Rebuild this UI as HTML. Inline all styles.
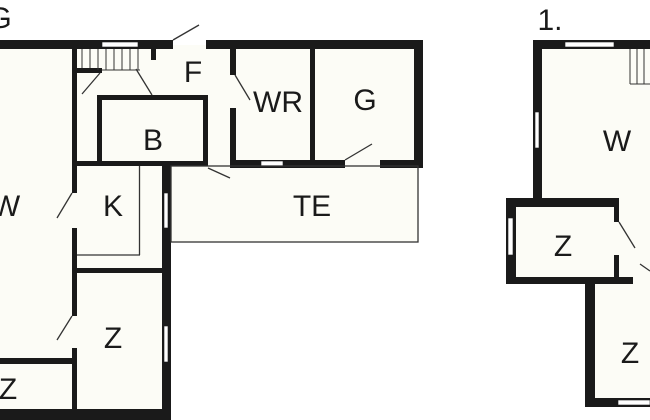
<!DOCTYPE html>
<html><head><style>
html,body{margin:0;padding:0;background:#fff;}
svg{display:block;}
text{font-family:"Liberation Sans",sans-serif;fill:#1a1a1a;text-anchor:middle;}
</style></head><body>
<svg width="650" height="420" viewBox="0 0 650 420" xmlns="http://www.w3.org/2000/svg">
<g fill="#fcfcf6">
<rect x="0" y="45" width="418" height="120"/>
<rect x="0" y="45" width="170" height="372"/>
<rect x="170" y="165" width="248" height="77"/>
<rect x="538" y="45" width="112" height="160"/>
<rect x="510" y="202" width="140" height="80"/>
<rect x="590" y="280" width="60" height="122"/>
</g>
<g fill="#1a1a1a">
<rect x="0" y="40" width="173" height="9"/>
<rect x="206" y="40" width="217" height="9"/>
<rect x="414" y="40" width="9" height="128"/>
<rect x="72" y="49" width="5" height="144"/>
<rect x="72" y="228" width="5" height="88"/>
<rect x="72" y="348" width="5" height="68"/>
<rect x="151" y="49" width="5" height="11"/>
<rect x="77" y="68" width="25" height="5"/>
<rect x="97" y="95" width="111" height="5"/>
<rect x="97" y="95" width="5" height="70"/>
<rect x="203" y="95" width="5" height="70"/>
<rect x="77" y="161" width="131" height="5"/>
<rect x="162" y="161" width="9" height="255"/>
<rect x="77" y="268" width="90" height="5"/>
<rect x="230" y="49" width="6" height="26"/>
<rect x="230" y="108" width="6" height="60"/>
<rect x="310" y="49" width="5" height="115"/>
<rect x="230" y="160" width="115" height="8"/>
<rect x="380" y="160" width="43" height="8"/>
<rect x="0" y="358" width="77" height="6"/>
<rect x="0" y="409" width="171" height="11"/>
<rect x="533" y="40" width="117" height="9"/>
<rect x="533" y="40" width="9" height="165"/>
<rect x="506" y="198" width="113" height="9"/>
<rect x="506" y="198" width="10" height="86"/>
<rect x="614" y="198" width="5" height="24"/>
<rect x="614" y="255" width="5" height="27"/>
<rect x="506" y="277" width="127" height="7"/>
<rect x="585" y="277" width="10" height="130"/>
<rect x="585" y="398" width="65" height="9"/>
</g>
<g fill="#fff" stroke="#1a1a1a" stroke-width="0.6">
<rect x="102" y="42" width="36" height="5"/>
<rect x="261" y="161" width="22" height="5"/>
<rect x="164" y="193" width="4" height="35"/>
<rect x="164" y="326" width="4" height="36"/>
<rect x="565" y="42" width="49" height="5"/>
<rect x="535" y="112" width="4" height="36"/>
<rect x="508" y="218" width="5" height="37"/>
<rect x="618" y="400" width="32" height="5"/>
</g>
<g stroke="#333" stroke-width="1.3" fill="none">
<rect x="171" y="166" width="247" height="76"/>
<line x1="139.5" y1="166" x2="139.5" y2="255"/>
<line x1="77" y1="255" x2="140" y2="255"/>
<line x1="173" y1="40" x2="199" y2="25"/>
<line x1="57" y1="218" x2="72" y2="193"/>
<line x1="57" y1="340" x2="72" y2="316"/>
<line x1="82" y1="94" x2="100" y2="73"/>
<line x1="136" y1="69" x2="152" y2="95"/>
<line x1="235" y1="75" x2="250" y2="100"/>
<line x1="345" y1="160" x2="372" y2="144"/>
<line x1="208" y1="168" x2="230" y2="178"/>
<line x1="619" y1="222" x2="635" y2="248"/>
<line x1="640" y1="264" x2="650" y2="271"/>
</g>
<g stroke="#333" stroke-width="1">
<line x1="82" y1="49" x2="82" y2="68"/><line x1="90" y1="49" x2="90" y2="68"/>
<line x1="98" y1="49" x2="98" y2="70"/><line x1="106" y1="49" x2="106" y2="70"/>
<line x1="114" y1="49" x2="114" y2="70"/><line x1="122" y1="49" x2="122" y2="70"/>
<line x1="130" y1="49" x2="130" y2="70"/><line x1="138" y1="49" x2="138" y2="70"/>
<line x1="102" y1="70" x2="140" y2="70"/>
<line x1="630" y1="49" x2="630" y2="84"/><line x1="637" y1="49" x2="637" y2="84"/>
<line x1="644" y1="49" x2="644" y2="84"/><line x1="630" y1="84" x2="650" y2="84"/>
</g>
<g font-size="30">
<text x="0" y="28">G</text>
<text x="193" y="82">F</text>
<text x="278" y="112">WR</text>
<text x="365" y="110">G</text>
<text x="153" y="150">B</text>
<text x="113" y="216">K</text>
<text x="312" y="216">TE</text>
<text x="6" y="216">W</text>
<text x="113" y="348">Z</text>
<text x="8" y="399">Z</text>
<text x="550" y="30">1.</text>
<text x="617" y="151">W</text>
<text x="563" y="256">Z</text>
<text x="630" y="363">Z</text>
</g>
</svg>
</body></html>
